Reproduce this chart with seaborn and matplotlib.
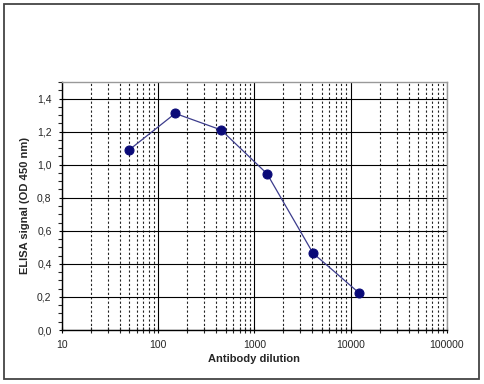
import matplotlib
matplotlib.use("Agg")
import matplotlib.pyplot as plt
import matplotlib.ticker as mticker
from matplotlib.patches import Rectangle
import seaborn as sns
import pandas as pd
import numpy as np

dilution = [50, 150, 450, 1350, 4050, 12150]
signal = [1.09, 1.31, 1.21, 0.945, 0.465, 0.225]

sns.set_style("white")
plt.rcParams['font.family'] = ['Liberation Sans', 'DejaVu Sans']

fig = plt.figure(figsize=(4.85, 3.84), dpi=100)
ax = fig.add_axes([62/485, 54/384, 385/485, 248/384])

df = pd.DataFrame({"dilution": dilution, "signal": signal})
sns.lineplot(data=df, x="dilution", y="signal", ax=ax, color="#3c3c8c", lw=0.9,
             marker="o", markersize=6.5, markerfacecolor="#0a0a78",
             markeredgecolor="#0a0a78", zorder=5)

ax.set_xscale("log")
ax.set_xlim(10, 100000)
ax.set_ylim(0, 1.5)
ax.set_yticks(np.arange(0, 1.41, 0.2))
ax.yaxis.set_minor_locator(mticker.MultipleLocator(0.05))
ax.xaxis.set_major_locator(mticker.LogLocator(base=10, numticks=10))
ax.xaxis.set_minor_locator(mticker.LogLocator(base=10, subs=np.arange(2, 10), numticks=20))
ax.xaxis.set_major_formatter(mticker.FuncFormatter(lambda v, p: f"{int(round(v))}"))
ax.xaxis.set_minor_formatter(mticker.NullFormatter())
ax.yaxis.set_major_formatter(mticker.FuncFormatter(lambda v, p: f"{v:.1f}".replace(".", ",")))

ax.grid(True, which="major", axis="both", color="black", lw=0.8, ls="-")
ax.grid(True, which="minor", axis="x", color="#222222", lw=0.8, ls=(0, (2, 2)))
ax.set_axisbelow(True)

for s in ["top", "right"]:
    ax.spines[s].set_color("#999999")
    ax.spines[s].set_linewidth(1)
for s in ["left", "bottom"]:
    ax.spines[s].set_color("black")
    ax.spines[s].set_linewidth(1)

ax.tick_params(axis="both", which="major", labelsize=7.5, length=4, width=0.8, color="black",
               left=True, bottom=True, pad=5)
ax.tick_params(axis="x", which="both", direction="inout")
ax.tick_params(axis="x", which="minor", length=4, width=0.8, bottom=True)
ax.tick_params(axis="y", which="minor", length=3, width=0.8, left=True, direction="out")
ax.tick_params(axis="y", which="major", direction="inout", length=5)

ax.set_xlabel("Antibody dilution", fontsize=8, fontweight="bold", labelpad=3)
ax.set_ylabel("ELISA signal (OD 450 nm)", fontsize=8, fontweight="bold", labelpad=5)

fig.patches.append(Rectangle((4/485, 5/384), 475/485, 375/384, transform=fig.transFigure,
                             fill=False, edgecolor="#444444", lw=1.3))

fig.savefig("out.png", dpi=100)
